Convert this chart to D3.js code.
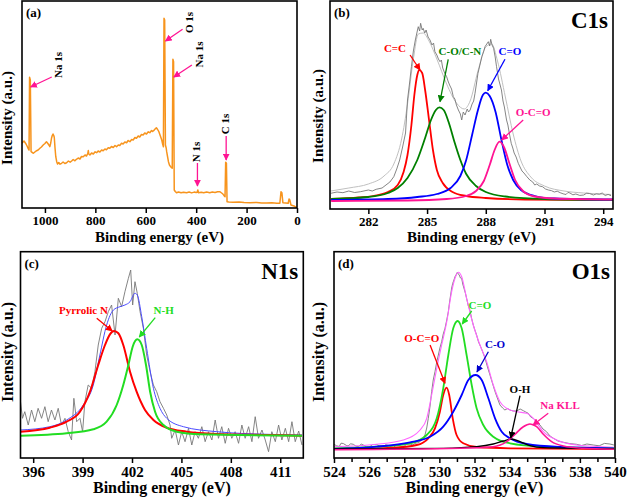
<!DOCTYPE html>
<html><head><meta charset="utf-8">
<script src="https://cdn.jsdelivr.net/npm/d3@7"></script>
<style>html,body{margin:0;padding:0;background:#fff;}svg{display:block;}</style>
</head><body>
<svg id="chart" width="627" height="498"></svg>
<script>
// ---------------- DATA ----------------
// (a) survey spectrum [binding energy eV, intensity a.u.]
const surveyTicks = [1000, 800, 600, 400, 200, 0];
const survey = [[1091,64.7],[1087,66],[1083,67],[1079,65.5],[1075,64],[1071,62],[1067,59.7],[1063,58],[1061,130.7],[1058,128],[1055,56.3],[1050,55.5],[1046,54.7],[1040,56],[1033,57.3],[1027,58],[1020,59.7],[1014,61],[1007,63],[1000,64.5],[994,66.3],[990,65],[987,64],[983,62.5],[980.5,61.3],[977,65],[974,69.7],[971,72.5],[968,74],[965,72.5],[963,70.7],[960,60],[957,51.3],[953,46],[950,44],[945,45.5],[940,43.8],[934,44.7],[928,46],[921,44.5],[914,45.3],[907,47],[900,45.8],[894,47],[888,48.5],[881,47.2],[875,48.7],[868,50],[861,49],[855,51.5],[848,51.3],[841,53],[835,52],[830,54.5],[828,57.5],[826,54],[821.6,53],[815,55],[808,54],[801,56.2],[795,55.3],[789,57],[782,56],[775,58],[769,57.3],[762,59],[756,58.2],[749,60.2],[742.6,59.7],[736,61.5],[729,60.5],[722,62.5],[716,61.3],[709,63],[703,62.5],[696,64.8],[690,64],[683,66],[676,65.2],[670,67.5],[663,66.3],[656,68.5],[650,68],[643,70.5],[637,69.7],[630,72],[624,71],[617,73.5],[610.6,73],[604,75],[597,74],[590,76.2],[584,75.3],[577,77.5],[573,76.5],[568.9,77.3],[563,79],[558,80.3],[553,78.5],[548,76.3],[542,72],[536.5,68],[533,64],[530,61.3],[527.6,189.7],[525,188],[522,63],[519,60],[517,56.3],[514,52],[510,46.3],[506,43],[501.6,41.3],[498,40.5],[495,39.7],[492.3,148.7],[489.7,146.3],[487,18],[483,16.5],[478,15.3],[470,16],[460,15.2],[450,15.8],[438,15.3],[428,16],[418,15.1],[408,15.9],[400,15.4],[396,15.7],[393.5,18],[391,15.3],[380,15.8],[370,15.2],[358,16],[346,15.3],[336,15.9],[325,15.5],[315,16.2],[306.6,16.3],[299,15],[293,13.7],[288,11.8],[285.5,11.3],[283,45.7],[280,44.7],[277.5,6.3],[270,6],[253.5,5.7],[230,5.9],[210,5.4],[187,5.3],[160,5.5],[140,5.1],[121,5],[100,5.2],[80,4.8],[68,4.7],[63.5,16.3],[60,15.3],[56,5.3],[45,5],[35,4.7],[31.5,9],[28.5,8],[24,3],[12,2],[1.7,0.7]];
const surveyNotes = [
  {text:"Na 1s", at:[944,143], from:[973,131], to:[1057,121]},
  {text:"O 1s",  at:[424,185.5], from:[454,178.7], to:[522,167]},
  {text:"Na 1s", at:[384,153.5], from:[417,143], to:[489,131]},
  {text:"N 1s",  at:[396,56], from:[395,45], to:[395,22]},
  {text:"C 1s",  at:[278,84], from:[281,72], to:[281,48]}
];

// (b) C1s
const c1sTicks = [282, 285, 288, 291, 294];
const c1sRaw = [[280.08,15.7],[280.4,17],[280.7,16.3],[281.0,18],[281.3,16.5],[281.6,17.3],[282.0,19],[282.2,18],[282.4,19.7],[282.7,21],[282.9,24],[283.1,27],[283.3,32.3],[283.45,40],[283.6,49],[283.75,62],[283.9,76],[284.0,109],[284.1,125],[284.2,142.3],[284.3,158],[284.4,169],[284.5,178],[284.55,182.3],[284.62,178],[284.67,185.7],[284.75,179],[284.8,180.7],[284.88,176],[284.95,179],[285.05,172],[285.15,169],[285.25,164],[285.33,166],[285.4,157.3],[285.5,154],[285.58,150],[285.66,147.3],[285.73,149],[285.8,141],[285.9,136],[286.0,132.3],[286.07,128],[286.15,124],[286.25,120],[286.34,112.3],[286.42,110],[286.5,104],[286.6,99],[286.7,95],[286.77,89],[286.85,97],[286.94,94],[287.05,100],[287.12,97],[287.2,99],[287.3,105],[287.38,108],[287.45,115.7],[287.52,125],[287.6,135.7],[287.7,144],[287.8,152.3],[287.9,158],[287.96,162.3],[288.05,165],[288.13,167.3],[288.2,163],[288.25,169.7],[288.32,164],[288.4,160.7],[288.48,152],[288.55,142.3],[288.65,130],[288.72,125],[288.8,119],[288.88,108],[288.95,102],[289.06,89],[289.13,84],[289.2,76],[289.3,65.7],[289.38,61],[289.45,56],[289.55,52],[289.66,45.7],[289.75,42],[289.85,38],[289.95,36],[290.1,32.3],[290.25,29],[290.4,27],[290.5,24],[290.6,25],[290.75,23],[290.9,22.3],[291.05,20],[291.2,19],[291.35,18.4],[291.5,17],[291.65,17.8],[291.8,16.3],[291.95,15.2],[292.1,14.5],[292.2,16.6],[292.3,16],[292.45,14.2],[292.6,15],[292.8,13.6],[293.0,14],[293.15,15.8],[293.3,15.5],[293.5,14],[293.65,15.2],[293.8,14.8],[293.95,16],[294.1,13.5],[294.25,14.6],[294.4,13.3]];
const c1sEnvelope = [[280.08,18],[281,21],[282,25],[282.8,33],[283.3,45],[283.7,70],[284.0,105],[284.3,150],[284.55,175],[284.8,176],[285.1,168],[285.5,150],[286.0,125],[286.5,106],[286.9,100],[287.2,108],[287.6,138],[288.0,162],[288.3,165],[288.6,148],[289.0,112],[289.4,75],[289.8,48],[290.3,32],[291,23],[292,18],[293,16],[294.4,14.5]];
const c1sCC = [[280.1,10],[281.5,11.5],[282.5,14],[283.0,17],[283.5,24],[283.8,37],[284.0,54],[284.2,84],[284.35,114],[284.5,134],[284.6,139],[284.75,136],[284.9,119],[285.1,89],[285.3,59],[285.5,39],[285.8,26],[286.3,17],[287,13],[288,11],[290,9.5],[294.5,9]];
const c1sCO = [[280.1,10],[282,12],[283,16],[283.5,21],[284,31],[284.5,49],[284.9,71],[285.2,89],[285.45,99],[285.63,101.7],[285.85,99],[286.1,87],[286.4,67],[286.7,49],[287.0,35],[287.5,23],[288,17],[289,12.5],[291,10],[294.5,9]];
const c1sCdO = [[280.1,9],[283,10],[284.5,12],[285.5,15],[286.2,21],[286.7,33],[287.0,49],[287.3,74],[287.6,99],[287.85,114],[288.0,116.3],[288.2,113],[288.5,97],[288.8,69],[289.1,44],[289.4,29],[289.8,19],[290.5,13],[291.5,10.5],[294.5,9.5]];
const c1sOCO = [[280.1,8],[284,8.5],[286,10],[287,13],[287.5,18],[287.9,28],[288.2,44],[288.45,59],[288.7,67.3],[288.95,61],[289.2,46],[289.5,29],[289.9,18],[290.5,12.5],[291.5,10.5],[294.5,9.5]];
const c1sNotes = [
  {text:"C=C", color:"#ff0000", at:[283.36,159.7], from:[284.13,154], to:[284.64,139]},
  {text:"C-O/C-N", color:"#008000", at:[286.68,156.3], from:[286.08,149.7], to:[285.66,107.3]},
  {text:"C=O", color:"#0000ff", at:[289.23,156.3], from:[288.98,149.7], to:[288.1,118.3]},
  {text:"O-C=O", color:"#ff1493", at:[290.42,95.7], from:[289.91,89], to:[288.81,69]}
];

// (c) N1s
const n1sTicks = [396, 399, 402, 405, 408, 411];
const n1sRaw = [[395.23,56.3],[395.35,39.7],[395.49,46.3],[395.7,33],[395.9,48],[396.1,36.3],[396.3,49.7],[396.51,39.7],[396.71,51.3],[396.91,36.3],[397.11,48],[397.32,38],[397.52,49.7],[397.72,33],[397.93,39.7],[398.13,26.3],[398.33,18],[398.47,59.7],[398.64,36.3],[398.84,39.7],[399.0,26.3],[399.14,56.3],[399.34,73],[399.55,69.7],[399.75,86.3],[399.95,113],[400.16,129.7],[400.36,136.3],[400.56,146.3],[400.76,153],[400.97,123],[401.17,159.7],[401.37,151.3],[401.57,166.3],[401.78,179.7],[401.92,188],[402.04,153],[402.18,176.3],[402.32,164.7],[402.49,146.3],[402.69,129.7],[402.89,103],[403.1,86.3],[403.3,73],[403.5,66.3],[403.7,56.3],[403.91,49.7],[404.11,43],[404.31,33],[404.41,19.7],[404.62,28],[404.82,13],[405.02,26.3],[405.22,16.3],[405.43,29.7],[405.63,13],[405.83,26.3],[406.03,19.7],[406.24,31.3],[406.44,16.3],[406.64,26.3],[406.85,18],[407.05,38],[407.25,19.7],[407.45,31.3],[407.66,14.7],[407.86,29.7],[408.06,19.7],[408.26,26.3],[408.47,14.7],[408.67,33],[408.87,19.7],[409.08,31.3],[409.28,16.3],[409.48,41.3],[409.68,19.7],[409.89,28],[410.09,18],[410.29,6.3],[410.49,26.3],[410.7,16.3],[410.9,33],[411.1,18],[411.31,29.7],[411.51,16.3],[411.71,36.3],[411.91,16.3],[412.12,27],[412.32,13]];
const n1sEnvelope = [[395.23,28],[397.01,31.3],[398.03,38],[399.04,53],[399.65,73],[400.05,103],[400.46,133],[400.87,148],[401.27,151.3],[401.57,153],[401.88,156.3],[402.18,164.7],[402.32,163],[402.59,141.3],[402.89,109.7],[403.3,69.7],[403.7,49.7],[404.11,39.7],[405.12,31.3],[407.15,26.3],[410.19,23.7],[412.32,23]];
const n1sPyrrolic = [[395.23,26.3],[397.01,30.3],[398.03,36.3],[398.84,46.3],[399.45,66.3],[399.95,93],[400.36,113],[400.66,123.7],[400.91,127],[401.17,124.7],[401.47,113],[401.88,86.3],[402.28,66.3],[402.79,48],[403.3,38],[404.11,30.3],[405.32,26.3],[407.15,24],[410.19,23],[412.32,22.3]];
const n1sNH = [[395.23,22.3],[398.03,24.7],[399.65,28.7],[400.46,36.3],[401.07,53],[401.47,73],[401.78,93],[402.04,111.3],[402.32,118.7],[402.59,113],[402.85,93],[403.1,66.3],[403.4,46.3],[403.91,33],[404.72,26.3],[406.14,23.7],[412.32,22.3]];
const n1sNotes = [
  {text:"Pyrrolic N", color:"#ff0000", at:[399.05,147], from:[399.86,139.7], to:[400.8,127]},
  {text:"N-H", color:"#22dd22", at:[403.92,147], from:[403.41,140.3], to:[402.44,121]}
];

// (d) O1s
const o1sTicks = [524, 526, 528, 530, 532, 534, 536, 538, 540];
const o1sMinor = [525, 527, 529, 531, 533, 535, 537, 539];
const o1sRaw = [[524.0,13.7],[524.15,12.2],[524.3,11.5],[524.4,14.8],[524.53,14.5],[524.7,12.6],[524.8,12],[524.95,14.2],[525.1,13.7],[525.25,11.8],[525.4,11.5],[525.55,13.9],[525.67,13],[525.85,11.2],[526,11],[526.2,13.4],[526.43,13.5],[526.6,12],[526.8,11.5],[526.95,13.2],[527.1,12.5],[527.25,11.4],[527.38,10.8],[527.55,12.8],[527.7,12.5],[527.85,11.6],[528,12],[528.15,13.8],[528.33,14],[528.5,13],[528.6,14.5],[528.75,15.2],[528.9,16.3],[529.05,19],[529.18,23],[529.28,30],[529.37,39.7],[529.47,52],[529.56,66.3],[529.65,78],[529.75,86.3],[529.85,96],[529.94,103],[530.03,110],[530.13,116.3],[530.22,124],[530.32,129.7],[530.42,138],[530.51,146.3],[530.58,156],[530.64,163],[530.7,170],[530.76,174.7],[530.83,178],[530.89,181.3],[530.95,183],[531.02,185.7],[531.08,184],[531.13,183],[531.2,180],[531.27,179.7],[531.33,174],[531.4,169.7],[531.48,165],[531.55,159.7],[531.65,152],[531.74,148],[531.83,140],[531.93,133],[532.02,128],[532.12,123],[532.23,116],[532.35,111.3],[532.47,106],[532.6,99.7],[532.74,91],[532.88,83],[533.02,75],[533.17,66.3],[533.3,60],[533.45,53],[533.6,50],[533.73,48],[533.88,49.5],[534.02,48],[534.2,47],[534.4,47],[534.6,49],[534.78,47.3],[534.92,46],[535.06,44.7],[535.2,41],[535.35,39.7],[535.55,36],[535.73,33],[535.9,29],[536.1,26.3],[536.3,22],[536.49,19.7],[536.75,17],[537.06,15.7],[537.4,14.5],[537.81,13.7],[538.1,12.5],[538.4,14],[538.76,13],[539.1,12.2],[539.4,14.6],[539.71,14],[539.94,13]];
const o1sEnvelope = [[524,11.3],[526.43,13.7],[527.95,18],[528.9,28],[529.28,39.7],[529.56,63],[529.85,89.7],[530.13,113],[530.42,136.3],[530.7,166.3],[530.89,179.7],[531.08,185.7],[531.27,181.3],[531.55,159.7],[531.93,133],[532.31,113],[532.69,96.3],[533.07,73],[533.45,56.3],[533.83,49.7],[534.4,46.3],[534.97,44.7],[535.35,39.7],[535.92,26.3],[536.68,18],[537.81,13],[539.94,10.7]];
const o1sOCO = [[524,9],[527.38,10.3],[528.71,13],[529.37,19.7],[529.75,29.7],[530.03,46.3],[530.22,63],[530.41,70.3],[530.56,63],[530.76,39.7],[530.98,23],[531.36,14.7],[532.12,11],[534.02,9.7],[539.94,9]];
const o1sCdO = [[524,9.7],[526.43,11.3],[528.33,14.7],[529.28,23],[529.85,39.7],[530.22,69.7],[530.51,103],[530.79,129.7],[531.04,137],[531.27,129.7],[531.55,103],[531.84,73],[532.12,49.7],[532.5,33],[533.07,21.3],[534.02,14.7],[535.92,11.3],[539.94,9.7]];
const o1sCO = [[524,9],[526.43,11.3],[528.33,15.7],[529.47,21.3],[530.22,31.3],[530.79,46.3],[531.27,63],[531.65,78],[532.06,83],[532.41,78],[532.79,59.7],[533.17,39.7],[533.55,26.3],[534.02,19.7],[534.97,14],[536.87,11],[539.94,9.7]];
const o1sOH = [[524,9],[530.22,9.7],[532.12,11.3],[533.07,14],[533.64,17],[534.11,19],[534.59,16.3],[535.16,12.3],[535.92,10.3],[539.94,9.3]];
const o1sNaKLL = [[524,8.3],[531.17,9.7],[533.07,11.3],[533.83,16.3],[534.3,23.7],[534.78,31.3],[535.16,34],[535.54,31.3],[535.92,23.7],[536.39,16.3],[537.06,12],[538.2,9.7],[539.94,8.7]];
const o1sNotes = [
  {text:"O-C=O", color:"#ff0000", at:[529.0,119], from:[529.47,113], to:[530.32,74.7]},
  {text:"C=O", color:"#22dd22", at:[532.31,151.3], from:[531.84,147], to:[531.3,134]},
  {text:"C-O", color:"#0000cc", at:[533.17,112.3], from:[532.79,106.3], to:[532.14,86]},
  {text:"O-H", color:"#000000", at:[534.59,67.3], from:[534.59,62.3], to:[534.06,20]},
  {text:"Na KLL", color:"#ff1493", at:[536.87,52], from:[536.2,44.7], to:[535.33,33]}
];

// ---------------- DRAWING ----------------
const FONT = '"Liberation Serif","Times New Roman",serif';
const svg = d3.select("#chart");
const defs = svg.append("defs");
const markerIds = {};
function marker(color){
  if (markerIds[color]) return markerIds[color];
  const id = "m" + Object.keys(markerIds).length;
  defs.append("marker").attr("id", id).attr("viewBox","0 0 10 10")
    .attr("refX",9).attr("refY",5)
    .attr("orient","auto").attr("markerUnits","userSpaceOnUse")
    .attr("markerWidth",7).attr("markerHeight",7)
    .append("path").attr("d","M0,0 L10,5 L0,10 z").attr("fill", color);
  markerIds[color] = id;
  return id;
}

function panel(o){
  const g = svg.append("g");
  const x = d3.scaleLinear().domain(o.xDomain).range([o.left, o.right]);
  const y = d3.scaleLinear().domain(o.yDomain).range([o.bottom, o.top]);
  const clipId = "clip" + o.tag.replace(/\W/g,"");
  defs.append("clipPath").attr("id", clipId).append("rect")
    .attr("x", o.left).attr("y", o.top).attr("width", o.right-o.left).attr("height", o.bottom-o.top);
  const plot = g.append("g").attr("clip-path", `url(#${clipId})`);
  o.series.forEach(s => {
    const line = d3.line().x(d => x(d[0])).y(d => y(d[1])).curve(s.curve || d3.curveLinear);
    plot.append("path").datum(s.data).attr("d", line).attr("fill","none")
      .attr("stroke", s.color).attr("stroke-width", s.width).attr("stroke-linejoin","round");
  });
  // frame
  g.append("rect").attr("x", o.left).attr("y", o.top).attr("width", o.right-o.left)
    .attr("height", o.bottom-o.top).attr("fill","none").attr("stroke","#000").attr("stroke-width",1.6);
  // x axis
  const ax = g.append("g").attr("transform", `translate(0,${o.bottom})`)
    .call(d3.axisBottom(x).tickValues(o.ticks).tickFormat(d3.format("d")).tickSize(5).tickPadding(3));
  ax.select(".domain").remove();
  ax.selectAll(".tick line").attr("stroke","#000").attr("stroke-width",1.5);
  ax.selectAll(".tick text").attr("font-family",FONT).attr("font-weight","bold")
    .attr("font-size", o.tickFont).attr("fill","#000");
  if (o.minor){
    const mx = g.append("g").attr("transform", `translate(0,${o.bottom})`)
      .call(d3.axisBottom(x).tickValues(o.minor).tickFormat("").tickSize(4));
    mx.select(".domain").remove();
    mx.selectAll(".tick line").attr("stroke","#000").attr("stroke-width",1.5);
  }
  // axis titles
  g.append("text").attr("x", (o.left+o.right)/2).attr("y", o.xlabY)
    .attr("text-anchor","middle").attr("font-family",FONT).attr("font-weight","bold")
    .attr("font-size", o.labFont).text("Binding energy (eV)");
  g.append("text").attr("transform", `translate(${o.ylabX},${o.ylabCY}) rotate(-90)`)
    .attr("text-anchor","middle").attr("dominant-baseline","middle").attr("font-family",FONT).attr("font-weight","bold")
    .attr("font-size", o.labFont).text("Intensity (a.u.)");
  // tag
  g.append("text").attr("x", o.left + 4).attr("y", o.top + 16).attr("font-family",FONT)
    .attr("font-weight","bold").attr("font-size",13).text(o.tag);
  if (o.title){
    g.append("text").attr("x", o.right - 5).attr("y", o.top + 27).attr("text-anchor","end")
      .attr("font-family",FONT).attr("font-weight","bold").attr("font-size",o.titleFont).text(o.title);
  }
  // notes
  (o.notes||[]).forEach(n => {
    const color = n.color || o.noteColor;
    g.append("line").attr("x1", x(n.from[0])).attr("y1", y(n.from[1]))
      .attr("x2", x(n.to[0])).attr("y2", y(n.to[1])).attr("stroke", color).attr("stroke-width",1.3)
      .attr("marker-end", `url(#${marker(color)})`);
    const t = g.append("text").attr("font-family",FONT).attr("font-weight","bold")
      .attr("font-size", o.noteFont).attr("fill", o.vertical ? "#000" : color)
      .attr("text-anchor","middle").attr("dominant-baseline","middle");
    if (o.vertical) t.attr("transform", `translate(${x(n.at[0])},${y(n.at[1])}) rotate(-90)`);
    else t.attr("x", x(n.at[0])).attr("y", y(n.at[1]));
    t.text(n.text);
  });
}

panel({tag:"(a)", left:22, right:297, top:1, bottom:208, xDomain:[1091,0], yDomain:[0,207],
  ticks:surveyTicks, tickFont:13, labFont:15, xlabY:242, ylabX:9, ylabCY:118,
  series:[{data:survey, color:"#f7941d", width:1.5}],
  notes:surveyNotes, noteColor:"#ff1493", noteFont:11, vertical:true});

panel({tag:"(b)", title:"C1s", titleFont:23, left:330, right:613, top:1, bottom:209, xDomain:[280.04,294.5], yDomain:[0,208],
  ticks:c1sTicks, tickFont:13, labFont:15, xlabY:242, ylabX:320, ylabCY:116,
  series:[
    {data:c1sEnvelope, color:"#c0c0c0", width:1, curve:d3.curveMonotoneX},
    {data:c1sRaw, color:"#777777", width:0.9},
    {data:c1sCC, color:"#ff0000", width:1.8, curve:d3.curveMonotoneX},
    {data:c1sCO, color:"#008000", width:1.8, curve:d3.curveMonotoneX},
    {data:c1sCdO, color:"#0000ff", width:1.8, curve:d3.curveMonotoneX},
    {data:c1sOCO, color:"#ff1493", width:1.8, curve:d3.curveMonotoneX}
  ],
  notes:c1sNotes, noteFont:11});

panel({tag:"(c)", title:"N1s", titleFont:23, left:20.5, right:303.3, top:251.7, bottom:458, xDomain:[395.23,412.4], yDomain:[0,206.3],
  ticks:n1sTicks, tickFont:15, labFont:16, xlabY:493, ylabX:9, ylabCY:352,
  series:[
    {data:n1sRaw, color:"#777777", width:0.9},
    {data:n1sEnvelope, color:"#4c4cff", width:1, curve:d3.curveMonotoneX},
    {data:n1sPyrrolic, color:"#ff0000", width:2, curve:d3.curveMonotoneX},
    {data:n1sNH, color:"#22dd22", width:2, curve:d3.curveMonotoneX}
  ],
  notes:n1sNotes, noteFont:11});

panel({tag:"(d)", title:"O1s", titleFont:23, left:334, right:615, top:251.7, bottom:458, xDomain:[524,540], yDomain:[0,206.3],
  ticks:o1sTicks, minor:o1sMinor, tickFont:15, labFont:16, xlabY:493, ylabX:320, ylabCY:352,
  series:[
    {data:o1sRaw, color:"#777777", width:0.9},
    {data:o1sEnvelope, color:"#ff66ff", width:1.1, curve:d3.curveMonotoneX},
    {data:o1sOCO, color:"#ff0000", width:1.8, curve:d3.curveMonotoneX},
    {data:o1sCdO, color:"#22dd22", width:1.8, curve:d3.curveMonotoneX},
    {data:o1sCO, color:"#0000ff", width:1.8, curve:d3.curveMonotoneX},
    {data:o1sOH, color:"#000000", width:1.3, curve:d3.curveMonotoneX},
    {data:o1sNaKLL, color:"#ff1493", width:1.6, curve:d3.curveMonotoneX}
  ],
  notes:o1sNotes, noteFont:11});
</script>
</body></html>
